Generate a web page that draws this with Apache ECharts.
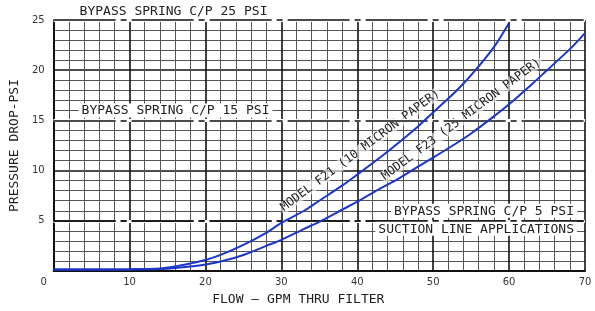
<!DOCTYPE html>
<html>
<head>
<meta charset="utf-8">
<script src="https://cdn.jsdelivr.net/npm/echarts@6/dist/echarts.min.js"></script>
<style>html,body{margin:0;padding:0;background:#fff;}#c{width:595px;height:311px;}</style>
</head>
<body>
<div id="c"></div>
<script>
// ---- data ----
const xTicks = [0, 10, 20, 30, 40, 50, 60, 70];
const yTicks = [0, 5, 10, 15, 20, 25];
const xF21 = [0,5,10,14,16,18,20,22,25,28,30,33,35,38,40,43,45,48,50,53,55,58,60];
const yF21 = [0.15,0.15,0.17,0.25,0.45,0.75,1.1,1.6,2.6,3.8,4.8,6.0,7.0,8.5,9.6,11.3,12.5,14.4,15.8,17.9,19.5,22.3,24.7];
const xF23 = [0,5,10,14,16,18,20,22,25,28,30,33,35,38,40,43,45,48,50,53,55,58,60,63,65,68,70];
const yF23 = [0.15,0.15,0.16,0.2,0.3,0.45,0.65,0.95,1.6,2.5,3.1,4.2,4.9,6.1,6.9,8.2,9.0,10.4,11.3,12.7,13.7,15.4,16.6,18.6,20.0,22.1,23.7];
const bypassLevels = [25, 15, 5];
const bypassTexts = ['BYPASS SPRING C/P 25 PSI', 'BYPASS SPRING C/P 15 PSI', 'BYPASS SPRING C/P 5 PSI'];
const suctionText = 'SUCTION LINE APPLICATIONS';
const curveNames = ['MODEL F21 (10 MICRON PAPER)', 'MODEL F23 (25 MICRON PAPER)'];

const pairs = (xs, ys) => xs.map((x, i) => [x, ys[i]]);
const FONT = 'DejaVu Sans';
const MONO = 'DejaVu Sans Mono';
const BLUE = '#1c36c8';

const chart = echarts.init(document.getElementById('c'), null, {renderer: 'canvas'});

const labelBase = {
  show: true, color: '#222', fontFamily: MONO, fontSize: 13,
  backgroundColor: '#fff', padding: [1, 3, 0, 3]
};
const dashStyle = {color: '#111', width: 1.6, type: [62, 5, 6, 5]};

const bgLines = bypassLevels.map(v => ({yAxis: v}));
const fgLines = [
  {yAxis: bypassLevels[0], label: Object.assign({}, labelBase, {formatter: bypassTexts[0], position: 'insideStartTop', distance: [23, 2]})},
  {yAxis: bypassLevels[1], label: Object.assign({}, labelBase, {formatter: bypassTexts[1], position: 'insideStartTop', distance: [25, 3]})},
  {yAxis: bypassLevels[2], label: Object.assign({}, labelBase, {formatter: bypassTexts[2], position: 'insideEndTop', distance: [8, 3]})},
  {yAxis: bypassLevels[2], label: Object.assign({}, labelBase, {formatter: suctionText, position: 'insideEndBottom', distance: [8, 1]})}
];

const option = {
  backgroundColor: '#fff',
  animation: false,
  grid: {left: 53, right: 10, top: 20, bottom: 38},
  xAxis: {
    type: 'value', min: xTicks[0], max: xTicks[xTicks.length - 1], interval: 10,
    name: 'FLOW – GPM THRU FILTER', nameLocation: 'middle', nameGap: 22,
    nameTextStyle: {fontFamily: MONO, fontSize: 13, color: '#222', padding: [0, 42, 0, 0]},
    axisLine: {show: true, lineStyle: {color: '#111', width: 2}},
    axisTick: {show: false},
    axisLabel: {
      fontFamily: FONT, fontSize: 10, color: '#333', margin: 6,
      formatter: v => (v === 0 ? '{z|0}' : String(v)),
      rich: {z: {fontFamily: FONT, fontSize: 10, color: '#333', padding: [0, 20, 0, 0]}}
    },
    splitLine: {show: true, lineStyle: {color: '#111', width: 1.6}},
    minorTick: {show: false, splitNumber: 5},
    minorSplitLine: {show: true, lineStyle: {color: '#555', width: 1}}
  },
  yAxis: {
    type: 'value', min: yTicks[0], max: yTicks[yTicks.length - 1], interval: 5,
    name: 'PRESSURE DROP-PSI', nameLocation: 'middle', nameGap: 28,
    nameTextStyle: {fontFamily: MONO, fontSize: 13, color: '#222'},
    axisLine: {show: true, lineStyle: {color: '#111', width: 2}},
    axisTick: {show: false},
    axisLabel: {fontFamily: FONT, fontSize: 10, color: '#333', margin: 9, showMinLabel: false},
    splitLine: {show: true, lineStyle: {color: '#111', width: 1.6}},
    minorTick: {show: false, splitNumber: 5},
    minorSplitLine: {show: true, lineStyle: {color: '#555', width: 1}}
  },
  series: [
    {
      name: 'bypassBg', type: 'line', data: [], z: 1, silent: true,
      markLine: {silent: true, symbol: ['none', 'none'], animation: false,
        label: {show: false}, lineStyle: {color: '#fff', width: 3, type: 'solid'}, data: bgLines}
    },
    {
      name: 'bypass', type: 'line', data: [], z: 2, silent: true,
      markLine: {silent: true, symbol: ['none', 'none'], animation: false,
        lineStyle: dashStyle, data: fgLines}
    },
    {
      name: curveNames[0], type: 'line', data: pairs(xF21, yF21), smooth: 0.3, showSymbol: false, z: 5,
      lineStyle: {color: BLUE, width: 2}, itemStyle: {color: BLUE}
    },
    {
      name: curveNames[1], type: 'line', data: pairs(xF23, yF23), smooth: 0.3, showSymbol: false, z: 5,
      lineStyle: {color: BLUE, width: 2}, itemStyle: {color: BLUE}
    }
  ]
};
chart.setOption(option);

// curve labels placed via data coordinates
const p1 = chart.convertToPixel({gridIndex: 0}, [40.4, 12.0]);
const p2 = chart.convertToPixel({gridIndex: 0}, [53.7, 15.1]);
const ang = 36.7 * Math.PI / 180;
const curveLabel = (p, t) => ({
  type: 'text', x: p[0], y: p[1], rotation: ang, z: 4,
  style: {text: t, fill: '#222', font: '12px "DejaVu Sans Mono"', align: 'center', verticalAlign: 'middle',
    backgroundColor: 'rgba(255,255,255,0.6)', padding: [0, 2]}
});
chart.setOption({graphic: [curveLabel(p1, curveNames[0]), curveLabel(p2, curveNames[1])]});
</script>
</body>
</html>
